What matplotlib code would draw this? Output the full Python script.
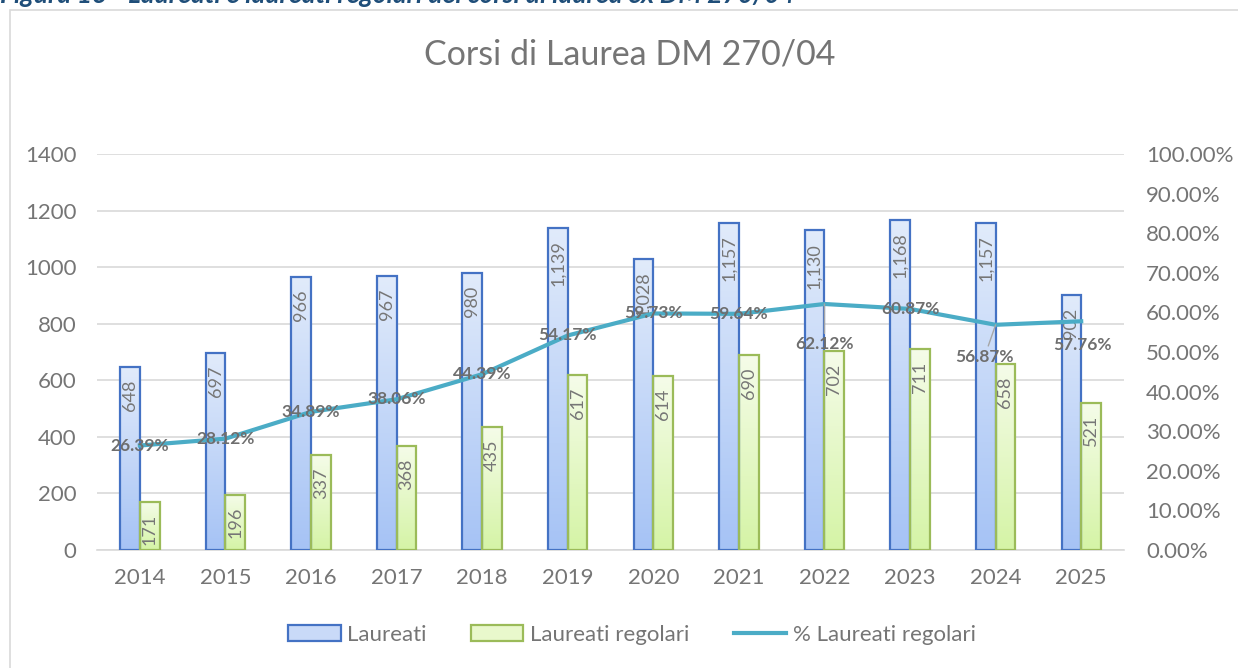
import matplotlib.pyplot as plt
import numpy as np
from matplotlib.patches import Rectangle, Patch
from matplotlib.lines import Line2D
from matplotlib.colors import LinearSegmentedColormap
from matplotlib.ticker import FuncFormatter

# data
years = ['2014', '2015', '2016', '2017', '2018', '2019', '2020', '2021', '2022', '2023', '2024', '2025']
laureati = [648, 697, 966, 967, 980, 1139, 1028, 1157, 1130, 1168, 1157, 902]
regolari = [171, 196, 337, 368, 435, 617, 614, 690, 702, 711, 658, 521]
perc = [26.39, 28.12, 34.89, 38.06, 44.39, 54.17, 59.73, 59.64, 62.12, 60.87, 56.87, 57.76]

plt.rcParams['font.family'] = ['Lato', 'DejaVu Sans']

grey = '#757575'
fig = plt.figure(figsize=(12.38, 6.68), dpi=100)
ax = fig.add_axes([0.0784, 0.1766, 0.8295, 0.5929])

x = np.arange(len(years))
w = 0.23

b1 = ax.bar(x - w / 2, laureati, width=w, facecolor='none', edgecolor='#4472C4', linewidth=1.6, zorder=3)
b2 = ax.bar(x + w / 2, regolari, width=w, facecolor='none', edgecolor='#9BBB59', linewidth=1.6, zorder=3)


# vertical gradient fill for each bar
def grad_fill(bars, top_col, bot_col):
    cmap = LinearSegmentedColormap.from_list('g', [bot_col, top_col])
    for b in bars:
        bx, by = b.get_xy()
        ax.imshow(np.linspace(0, 1, 100).reshape(-1, 1), cmap=cmap, origin='lower', aspect='auto',
                  extent=[bx, bx + b.get_width(), by, by + b.get_height()], zorder=2.9)


grad_fill(b1, '#E1EBFB', '#A6C3F5')
grad_fill(b2, '#F5FCE9', '#D5F4A6')

ax.set_xlim(-0.5, len(years) - 0.5)
ax.set_ylim(0, 1400)
ax.set_yticks(range(0, 1401, 200))
ax.set_xticks(x)
ax.set_xticklabels(years)
ax.tick_params(axis='both', length=0, labelsize=16, labelcolor=grey)
ax.tick_params(axis='y', pad=15)
ax.tick_params(axis='x', pad=13)
ax.grid(axis='y', color='#D9D9D9', linewidth=1.2, zorder=0)
ax.set_axisbelow(True)
for s in ['top', 'left', 'right']:
    ax.spines[s].set_visible(False)
ax.spines['bottom'].set_color('#D9D9D9')
ax.spines['bottom'].set_linewidth(1.2)

# bar value labels
for b, v in zip(list(b1) + list(b2), laureati + regolari):
    ax.annotate(f'{v:,}', (b.get_x() + b.get_width() / 2, v), xytext=(0, -9), textcoords='offset points',
                rotation=90, ha='center', va='top', fontsize=13, color='#767676', zorder=4)

# percentage line on secondary axis
ax2 = ax.twinx()
ax2.set_ylim(0, 1)
ax2.set_yticks(np.arange(0, 1.01, 0.1))
ax2.yaxis.set_major_formatter(FuncFormatter(lambda v, p: f'{v * 100:.2f}%'))
ax2.tick_params(axis='y', length=0, labelsize=16, labelcolor=grey, pad=16)
for s in ax2.spines.values():
    s.set_visible(False)
ax2.plot(x, [p / 100 for p in perc], color='#4BACC6', linewidth=3, zorder=5)

offsets = {8: (0, -29), 10: (-8, -23), 11: (1, -17)}
for i, p in enumerate(perc):
    off = offsets.get(i, (0, 0))
    arrow = dict(arrowstyle='-', color='#A6A6A6', lw=1, shrinkA=0, shrinkB=0) if i in (8, 10) else None
    ax2.annotate(f'{p:.2f}%', (i, p / 100), xytext=off, textcoords='offset points', ha='center', va='center',
                 fontsize=12.5, fontweight='bold', color='#6E6E6E', arrowprops=arrow, zorder=6)

fig.text(0.509, 1 - 55 / 668, 'Corsi di Laurea DM 270/04', ha='center', va='center', fontsize=24.5, color=grey)

handles = [Patch(facecolor='#C9DAF8', edgecolor='#4472C4', linewidth=1.6),
           Patch(facecolor='#E9F8CC', edgecolor='#9BBB59', linewidth=1.6),
           Line2D([0], [0], color='#4BACC6', linewidth=3)]
leg = fig.legend(handles, ['Laureati', 'Laureati regolari', '% Laureati regolari'], loc='center', ncol=3,
                 bbox_to_anchor=(0.5105, 1 - 635 / 668), frameon=False, fontsize=16, handlelength=2.35,
                 handleheight=0.75, handletextpad=0.3, columnspacing=2.0)
for t in leg.get_texts():
    t.set_color(grey)

# chart frame and the cut-off caption above it
fig.add_artist(Rectangle((10 / 1238, -0.1), 1.2, 1.085, transform=fig.transFigure, fill=False,
                         edgecolor='#D9D9D9', linewidth=1.2))
fig.text(0.0, 1 - 3 / 668, 'Figura 13 - Laureati e laureati regolari dei corsi di laurea ex DM 270/04',
         fontsize=19, fontweight='bold', style='italic', color='#1F4E79', va='baseline')

fig.savefig('out.png', dpi=100)
